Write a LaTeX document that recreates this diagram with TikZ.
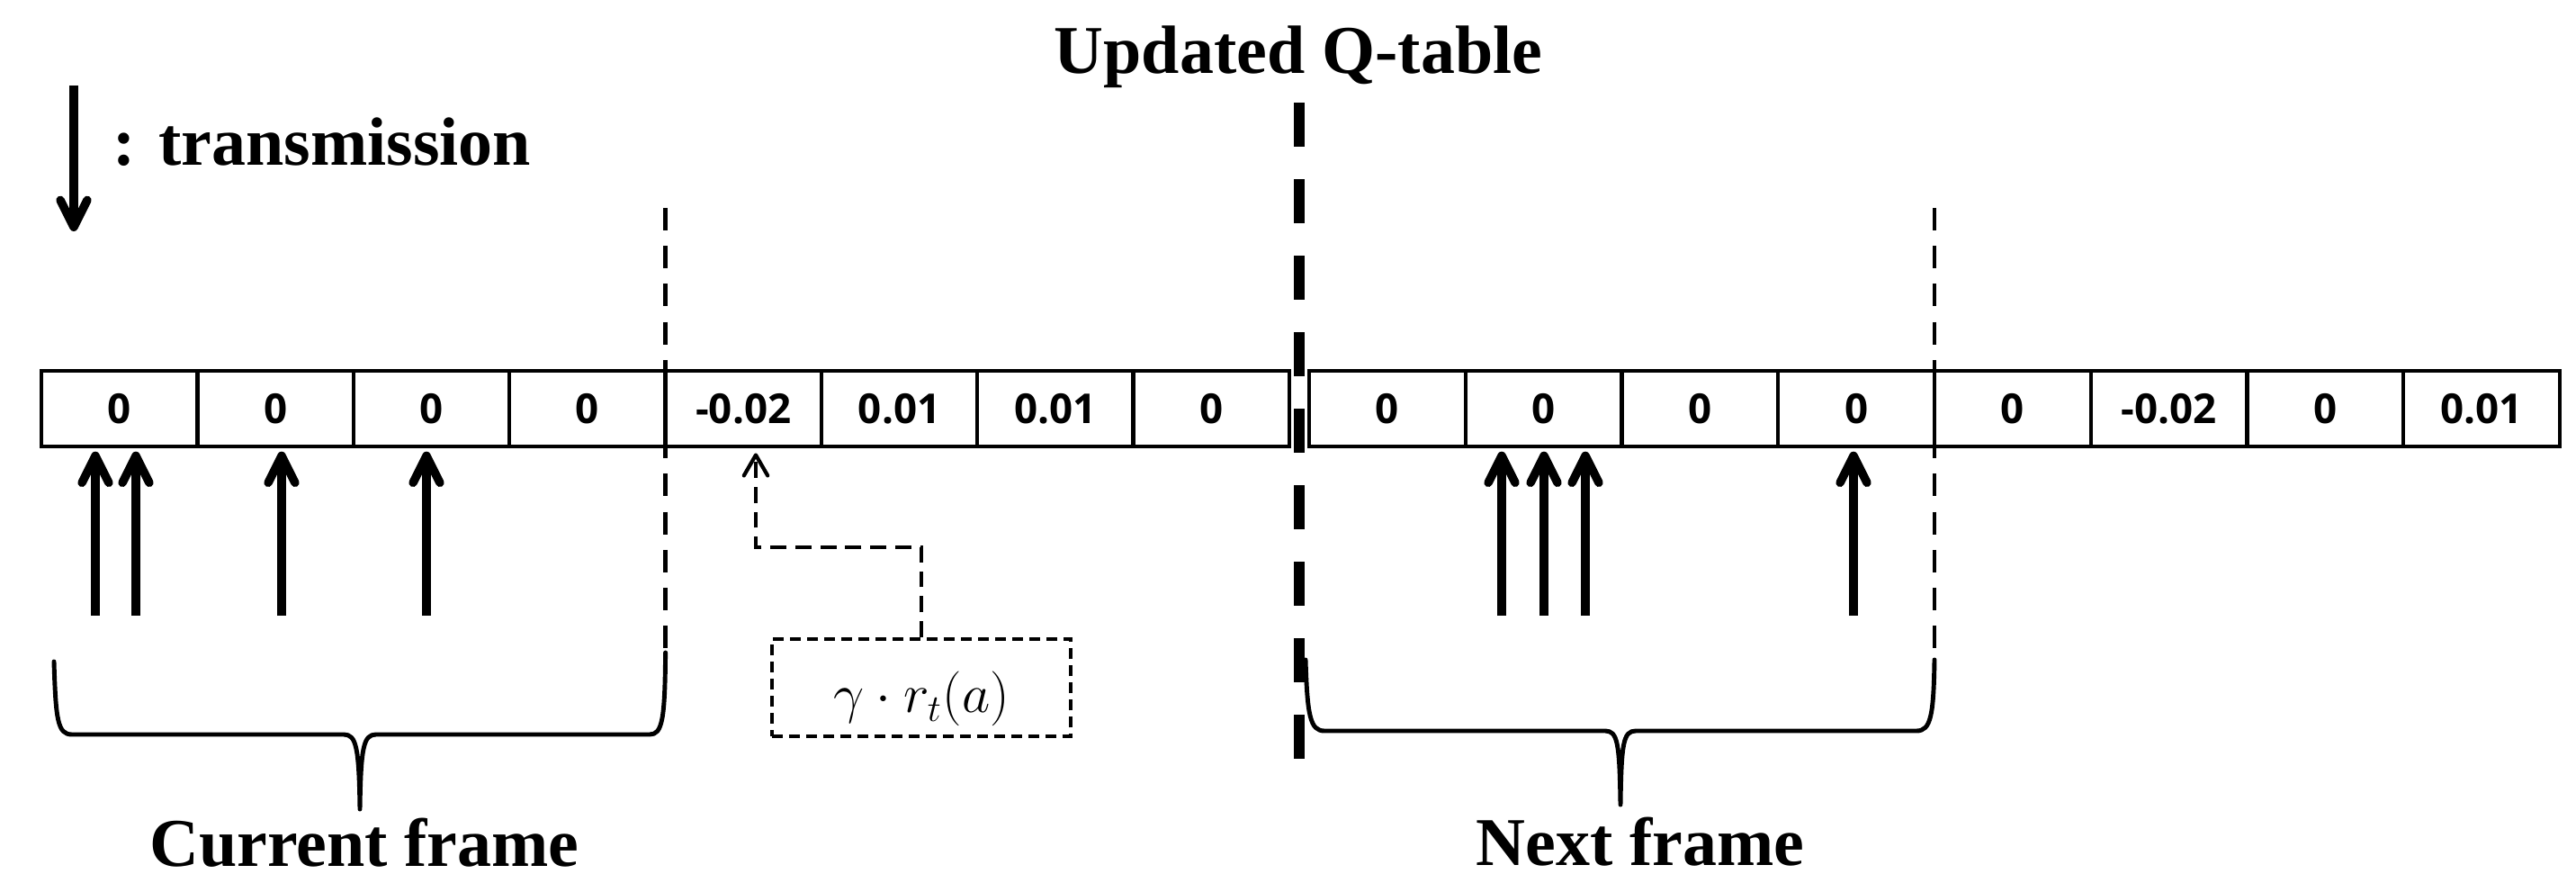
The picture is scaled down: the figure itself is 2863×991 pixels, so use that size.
\documentclass[tikz,border=0pt]{standalone}
\usepackage[no-math]{fontspec}
\setmainfont{Liberation Serif}
\newfontfamily\cellfont{Open Sans}
\usetikzlibrary{arrows.meta}
\begin{document}
\begin{tikzpicture}[x=0.01cm,y=-0.01cm,
  cell/.style={draw, line width=1.2pt, minimum height=0.84cm, inner sep=0pt,
    font=\cellfont\bfseries\fontsize{13}{15}\selectfont},
  cellA/.style={cell, minimum width=1.73375cm},
  cellB/.style={cell, minimum width=1.7375cm},
  title/.style={font=\bfseries\fontsize{21.6}{26}\selectfont, inner sep=0pt},
  tx/.style={line width=2.7pt, shorten >=1pt,
    -{Straight Barb[length=8.5pt,width=8.5pt,round]}},
  qline/.style={line width=3.4pt, dash pattern=on 13.94pt off 10.24pt},
  frameline/.style={line width=1.4pt, dash pattern=on 7.1pt off 4.9pt},
  conn/.style={line width=1.2pt, dash pattern=on 5.1pt off 2.8pt, shorten >=1.5pt,
    -{Straight Barb[length=6.5pt,width=7.5pt,round]}},
  gbox/.style={draw, line width=1.1pt, dash pattern=on 3.4pt off 2pt,
    minimum width=3.32cm, minimum height=1.08cm, inner sep=0pt,
    text height=20.5pt, text depth=4.6pt, font=\fontsize{18.3}{21}\selectfont},
  bracestyle/.style={line width=1.4pt, line join=round, line cap=round}
]
\useasboundingbox (0,0) rectangle (2863,991);

% legend
\coordinate (lt) at (82,95);
\coordinate (lh) at (82,257);
\draw[tx, shorten >=0pt] (lt) -- (lh);
\node[title, anchor=base west] (legend) at (125,184) {: transmission};

% title
\node[title, anchor=base] (qt) at (1443,82) {Updated Q-table};

% cells
\foreach \v [count=\i] in {0,0,0,0,-0.02,0.01,0.01,0}
  \node[cellA] (a\i) at ({46+173.375*(\i-0.5)},454) {\v};
\foreach \v [count=\i] in {0,0,0,0,0,-0.02,0,0.01}
  \node[cellB] (b\i) at ({1455+173.75*(\i-0.5)},454) {\v};

% transmissions
\foreach \x/\c in {106/a1,151/a1,313/a2,474/a3,1669/b2,1716/b2,1762/b2,2060/b4} {
  \coordinate (s\x) at (\x,684);
  \draw[tx] (s\x) -- (s\x |- \c.south);
}

% dashed separators
\draw[qline] (1444,114) -- (1444,843);
\draw[frameline] (739.6,231) -- (739.6,725);
\draw[frameline] (2150,231) -- (2150,733);

% gamma box and connector
\node[gbox] (g) at (1024,764) {$\gamma\cdot r_t(a)$};
\coordinate (k) at (840,608);
\draw[conn] (g.north) |- (k) -- (k |- a5.south);

% braces
\draw[bracestyle] (60,735) .. controls (62,800) and (64,816) .. (80,816)
  -- (382,816) .. controls (396,816) and (399,830) .. (400,899)
  .. controls (401,830) and (404,816) .. (418,816)
  -- (722,816) .. controls (736,816) and (739,800) .. (739.6,725);
\draw[bracestyle] (1451,733) .. controls (1453,795) and (1456,812) .. (1472,812)
  -- (1784,812) .. controls (1798,812) and (1800,826) .. (1801,894)
  .. controls (1802,826) and (1804,812) .. (1818,812)
  -- (2130,812) .. controls (2146,812) and (2149,795) .. (2150,733);

\node[title, anchor=base] (cf) at (405,962) {Current frame};
\node[title, anchor=base] (nf) at (1823,961) {Next frame};
\end{tikzpicture}
\end{document}
